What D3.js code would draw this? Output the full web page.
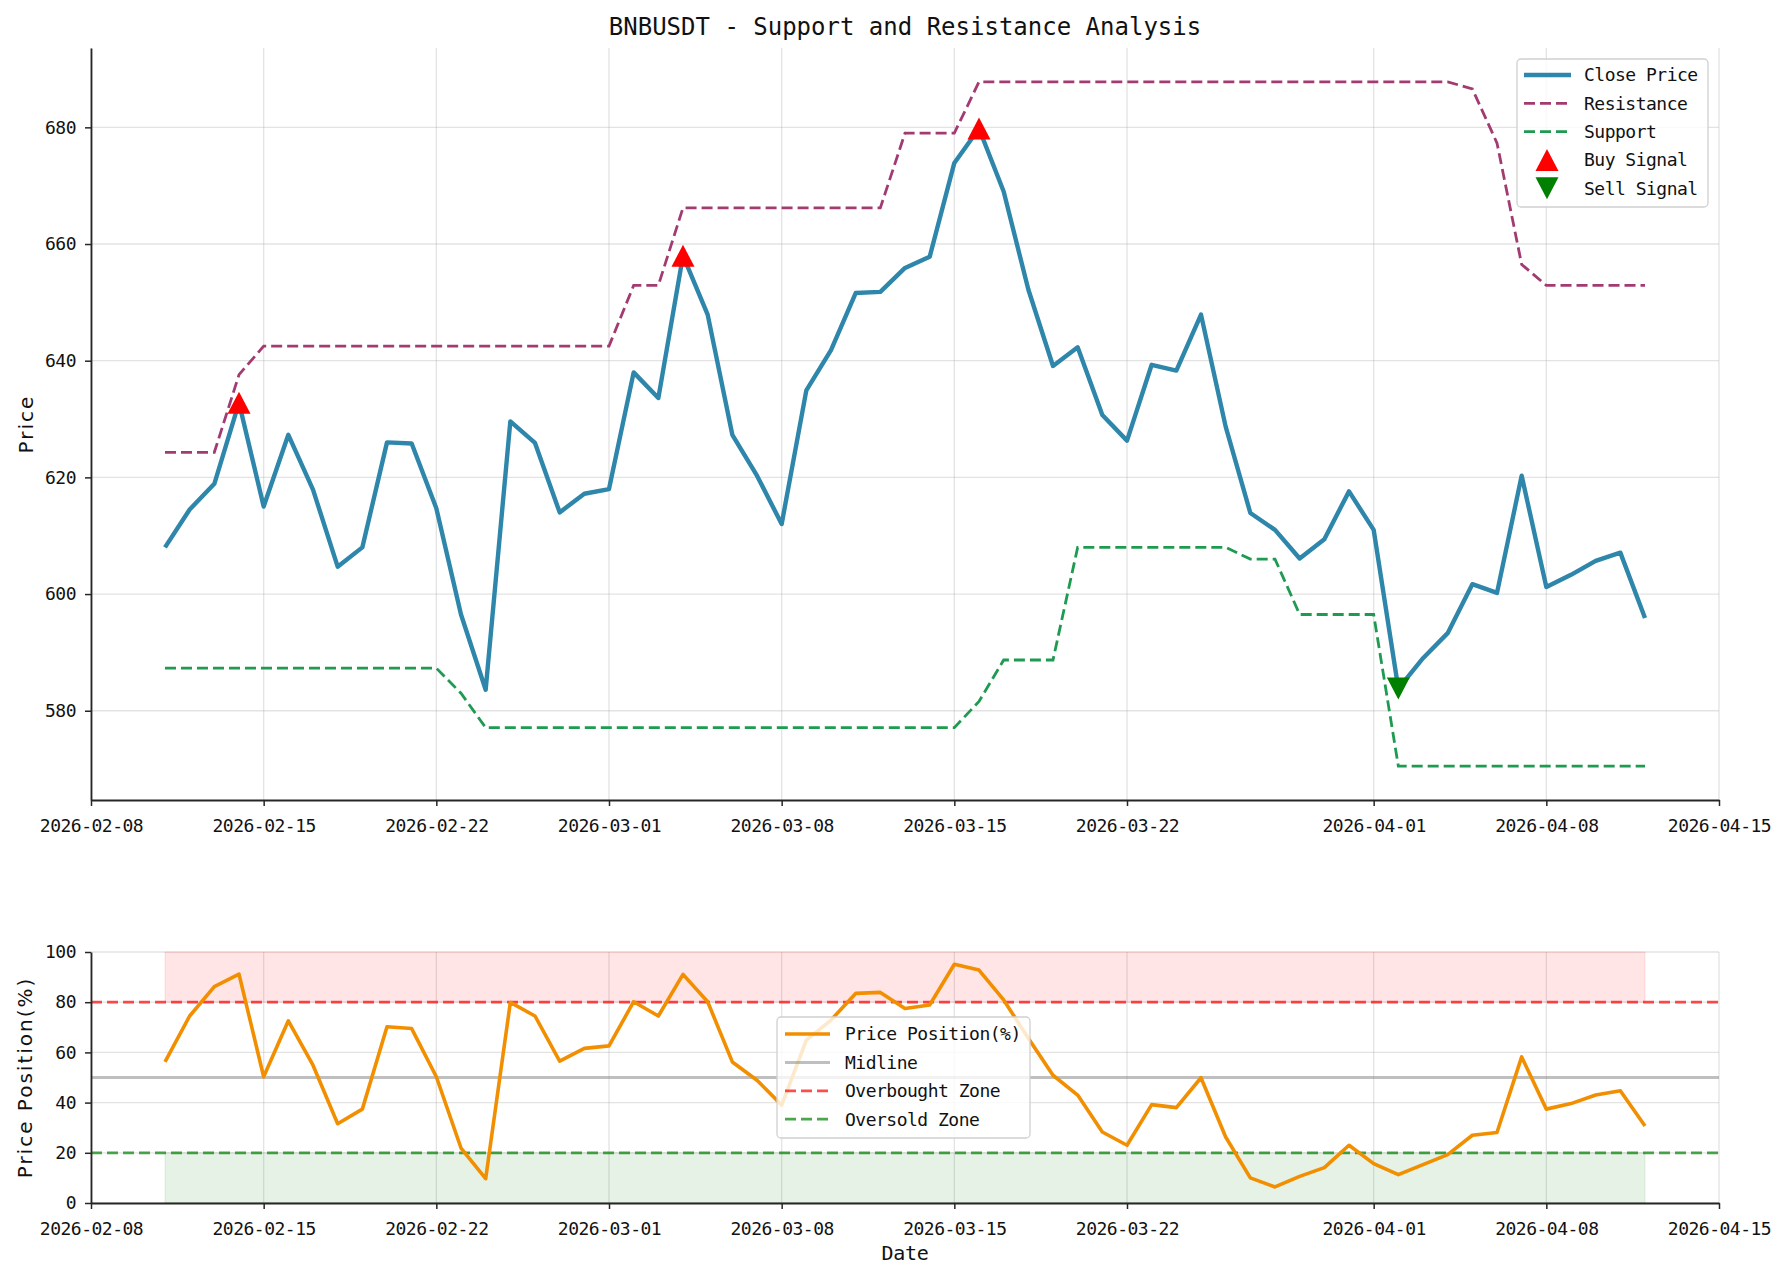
<!DOCTYPE html>
<html>
<head>
<meta charset="utf-8">
<script src="https://d3js.org/d3.v7.min.js"></script>
<style>
  body { margin: 0; background: #fff; }
  svg text { font-family: "DejaVu Sans Mono", monospace; fill: #111; }
</style>
</head>
<body>
<div id="chart"></div>
<script>
// ---- data ----
const dates = [
  "2026-02-11","2026-02-12","2026-02-13","2026-02-14","2026-02-15","2026-02-16","2026-02-17","2026-02-18",
  "2026-02-19","2026-02-20","2026-02-21","2026-02-22","2026-02-23","2026-02-24","2026-02-25","2026-02-26",
  "2026-02-27","2026-02-28","2026-03-01","2026-03-02","2026-03-03","2026-03-04","2026-03-05","2026-03-06",
  "2026-03-07","2026-03-08","2026-03-09","2026-03-10","2026-03-11","2026-03-12","2026-03-13","2026-03-14",
  "2026-03-15","2026-03-16","2026-03-17","2026-03-18","2026-03-19","2026-03-20","2026-03-21","2026-03-22",
  "2026-03-23","2026-03-24","2026-03-25","2026-03-26","2026-03-27","2026-03-28","2026-03-29","2026-03-30",
  "2026-03-31","2026-04-01","2026-04-02","2026-04-03","2026-04-04","2026-04-05","2026-04-06","2026-04-07",
  "2026-04-08","2026-04-09","2026-04-10","2026-04-11","2026-04-12"
];
const closePrice = [
  608.0, 614.5, 618.9, 632.8, 615.0, 627.3, 617.9, 604.7,
  608.0, 626.0, 625.8, 614.7, 596.5, 583.6, 629.6, 625.9,
  614.0, 617.2, 618.0, 638.0, 633.6, 658.0, 647.9, 627.3,
  620.3, 612.0, 634.9, 641.8, 651.6, 651.8, 655.9, 657.8,
  673.9, 679.8, 669.0, 652.2, 639.1, 642.3, 630.7, 626.3,
  639.3, 638.3, 647.9, 628.7, 613.9, 611.0, 606.1, 609.4,
  617.6, 611.0, 583.8, 589.0, 593.3, 601.7, 600.2, 620.3,
  601.2, 603.3, 605.7, 607.1, 595.9
];
const resistance = [
  624.3, 624.3, 624.3, 637.6, 642.5, 642.5, 642.5, 642.5,
  642.5, 642.5, 642.5, 642.5, 642.5, 642.5, 642.5, 642.5,
  642.5, 642.5, 642.5, 652.9, 652.9, 666.2, 666.2, 666.2,
  666.2, 666.2, 666.2, 666.2, 666.2, 666.2, 679.0, 679.0,
  679.0, 687.8, 687.8, 687.8, 687.8, 687.8, 687.8, 687.8,
  687.8, 687.8, 687.8, 687.8, 687.8, 687.8, 687.8, 687.8,
  687.8, 687.8, 687.8, 687.8, 687.8, 686.6, 677.3, 656.5,
  652.9, 652.9, 652.9, 652.9, 652.9
];
const support = [
  587.3, 587.3, 587.3, 587.3, 587.3, 587.3, 587.3, 587.3,
  587.3, 587.3, 587.3, 587.3, 583.0, 577.1, 577.1, 577.1,
  577.1, 577.1, 577.1, 577.1, 577.1, 577.1, 577.1, 577.1,
  577.1, 577.1, 577.1, 577.1, 577.1, 577.1, 577.1, 577.1,
  577.1, 581.6, 588.7, 588.7, 588.7, 608.0, 608.0, 608.0,
  608.0, 608.0, 608.0, 608.0, 606.0, 606.0, 596.5, 596.5,
  596.5, 596.5, 570.5, 570.5, 570.5, 570.5, 570.5, 570.5,
  570.5, 570.5, 570.5, 570.5, 570.5
];
const pricePosition = [
  56.2, 74.5, 86.2, 91.2, 50.3, 72.6, 54.9, 31.6,
  37.4, 70.2, 69.5, 50.3, 21.9, 9.7, 79.9, 74.5,
  56.5, 61.6, 62.6, 80.2, 74.5, 91.1, 80.2, 56.2,
  48.9, 39.0, 64.9, 72.9, 83.5, 83.9, 77.5, 78.9,
  95.1, 92.8, 80.9, 65.6, 50.9, 43.0, 28.3, 23.0,
  39.2, 38.0, 49.9, 26.3, 10.0, 6.4, 10.6, 14.1,
  23.0, 15.7, 11.3, 15.3, 19.3, 27.0, 28.1, 58.2,
  37.4, 39.6, 43.0, 44.7, 30.7
];
const buyDates = ["2026-02-14", "2026-03-04", "2026-03-16"];
const sellDates = ["2026-04-02"];

const tickDates = ["2026-02-08","2026-02-15","2026-02-22","2026-03-01","2026-03-08",
                   "2026-03-15","2026-03-22","2026-04-01","2026-04-08","2026-04-15"];
const xDomain = ["2026-02-08", "2026-04-15"];
const priceTicks = [580, 600, 620, 640, 660, 680];
const priceDomain = [564.7, 693.6];
const posTicks = [0, 20, 40, 60, 80, 100];
const posDomain = [0, 100];
const overboughtLevel = 80, oversoldLevel = 20, midLevel = 50;

const topLegendLabels = ["Close Price", "Resistance", "Support", "Buy Signal", "Sell Signal"];
const bottomLegendLabels = ["Price Position(%)", "Midline", "Overbought Zone", "Oversold Zone"];

// ---- layout ----
const W = 1785, H = 1280;
const left = 91, right = 1719;
const top1 = 48, bot1 = 800;
const top2 = 952, bot2 = 1203;

const cClose = "#2E86AB", cRes = "#A23B72", cSup = "#1f9a52", cPos = "#F18F01";
const dash = "11,5";
const axisColor = "#262626";

const parse = d3.utcParse("%Y-%m-%d");
const fmt = d3.utcFormat("%Y-%m-%d");

const svg = d3.select("#chart").append("svg")
  .attr("width", W).attr("height", H)
  .style("background", "#fff");

const x = d3.scaleUtc().domain(xDomain.map(parse)).range([left, right]);
const yP = d3.scaleLinear().domain(priceDomain).range([bot1, top1]);
const yQ = d3.scaleLinear().domain(posDomain).range([bot2, top2]);

const rows = dates.map((d, i) => ({
  date: parse(d), close: closePrice[i], res: resistance[i], sup: support[i], pos: pricePosition[i]
}));

const triPath = (up, w, h) => up
  ? `M0,${-h / 2}L${w / 2},${h / 2}L${-w / 2},${h / 2}Z`
  : `M0,${h / 2}L${w / 2},${-h / 2}L${-w / 2},${-h / 2}Z`;

function grid(yScale, yTicks, y0, y1) {
  const g = svg.append("g").attr("stroke", "#b0b0b0").attr("stroke-opacity", 0.35).attr("stroke-width", 1.3);
  g.selectAll(".vg").data(tickDates.map(parse)).enter().append("line")
    .attr("x1", d => x(d)).attr("x2", d => x(d)).attr("y1", y0).attr("y2", y1);
  g.selectAll(".hg").data(yTicks).enter().append("line")
    .attr("x1", left).attr("x2", right).attr("y1", d => yScale(d)).attr("y2", d => yScale(d));
}

function axes(yScale, yTicks, yBottom) {
  const xa = svg.append("g").attr("transform", `translate(0,${yBottom})`)
    .call(d3.axisBottom(x).tickValues(tickDates.map(parse)).tickFormat(fmt)
      .tickSize(6).tickSizeOuter(0).tickPadding(13));
  const ya = svg.append("g").attr("transform", `translate(${left},0)`)
    .call(d3.axisLeft(yScale).tickValues(yTicks).tickFormat(d3.format("d"))
      .tickSize(6).tickSizeOuter(0).tickPadding(9));
  [xa, ya].forEach(g => {
    g.attr("font-family", "DejaVu Sans Mono").attr("font-size", 18).attr("color", axisColor);
    g.select(".domain").attr("stroke-width", 1.8);
    g.selectAll(".tick line").attr("stroke-width", 1.5);
    g.selectAll("text").attr("letter-spacing", -0.5).attr("fill", "#111");
  });
}

// ---- top panel ----
grid(yP, priceTicks, top1, bot1);

const lineOf = key => d3.line().x(d => x(d.date)).y(d => yP(d[key]));

svg.append("path").datum(rows).attr("d", lineOf("close"))
  .attr("fill", "none").attr("stroke", cClose).attr("stroke-width", 4.4).attr("stroke-linejoin", "round");
svg.append("path").datum(rows).attr("d", lineOf("res"))
  .attr("fill", "none").attr("stroke", cRes).attr("stroke-width", 2.8).attr("stroke-dasharray", dash);
svg.append("path").datum(rows).attr("d", lineOf("sup"))
  .attr("fill", "none").attr("stroke", cSup).attr("stroke-width", 2.8).attr("stroke-dasharray", dash);

const byDate = new Map(dates.map((d, i) => [d, closePrice[i]]));
svg.selectAll(".buy").data(buyDates).enter().append("path")
  .attr("d", triPath(true, 23, 22))
  .attr("transform", d => `translate(${x(parse(d))},${yP(byDate.get(d))})`)
  .attr("fill", "#ff0000");
svg.selectAll(".sell").data(sellDates).enter().append("path")
  .attr("d", triPath(false, 23, 22))
  .attr("transform", d => `translate(${x(parse(d))},${yP(byDate.get(d))})`)
  .attr("fill", "#008000");

axes(yP, priceTicks, bot1);

// ---- bottom panel ----
grid(yQ, posTicks, top2, bot2);

const span = [rows[0].date, rows[rows.length - 1].date];
const band = (lo, hi) => d3.area().x(d => x(d)).y0(yQ(lo)).y1(yQ(hi))(span);
svg.append("path").attr("d", band(overboughtLevel, 100))
  .attr("fill", "rgba(255,0,0,0.1)").attr("stroke", "rgba(255,0,0,0.1)");
svg.append("path").attr("d", band(0, oversoldLevel))
  .attr("fill", "rgba(0,128,0,0.1)").attr("stroke", "rgba(0,128,0,0.1)");

svg.append("line").attr("x1", left).attr("x2", right)
  .attr("y1", yQ(midLevel)).attr("y2", yQ(midLevel))
  .attr("stroke", "rgba(128,128,128,0.5)").attr("stroke-width", 3);
svg.append("line").attr("x1", left).attr("x2", right)
  .attr("y1", yQ(overboughtLevel)).attr("y2", yQ(overboughtLevel))
  .attr("stroke", "rgba(255,0,0,0.7)").attr("stroke-width", 2.8).attr("stroke-dasharray", dash);
svg.append("line").attr("x1", left).attr("x2", right)
  .attr("y1", yQ(oversoldLevel)).attr("y2", yQ(oversoldLevel))
  .attr("stroke", "rgba(0,128,0,0.7)").attr("stroke-width", 2.8).attr("stroke-dasharray", dash);

svg.append("path").datum(rows)
  .attr("d", d3.line().x(d => x(d.date)).y(d => yQ(d.pos)))
  .attr("fill", "none").attr("stroke", cPos).attr("stroke-width", 3.6).attr("stroke-linejoin", "round");

axes(yQ, posTicks, bot2);

// ---- text ----
svg.append("text").attr("x", (left + right) / 2).attr("y", 35)
  .attr("text-anchor", "middle").attr("font-size", 24)
  .text("BNBUSDT - Support and Resistance Analysis");

svg.append("text").attr("transform", `translate(33,${(top1 + bot1) / 2}) rotate(-90)`)
  .attr("text-anchor", "middle").attr("font-size", 20).attr("letter-spacing", 2)
  .style("font-family", "'DejaVu Sans'")
  .text("Price");
svg.append("text").attr("transform", `translate(32,${(top2 + bot2) / 2}) rotate(-90)`)
  .attr("text-anchor", "middle").attr("font-size", 20).attr("letter-spacing", 2)
  .style("font-family", "'DejaVu Sans'")
  .text("Price Position(%)");
svg.append("text").attr("x", (left + right) / 2).attr("y", 1260)
  .attr("text-anchor", "middle").attr("font-size", 20).attr("letter-spacing", -0.3)
  .text("Date");

// ---- legends ----
function legendBox(x0, y0, w, h) {
  svg.append("rect").attr("x", x0).attr("y", y0).attr("width", w).attr("height", h)
    .attr("rx", 4).attr("fill", "rgba(255,255,255,0.8)")
    .attr("stroke", "#d0d0d0").attr("stroke-width", 1.3);
}

legendBox(1517, 59, 191, 148);
const topHandles = [
  { stroke: cClose, width: 4.4 },
  { stroke: cRes, width: 2.8, dash: dash },
  { stroke: cSup, width: 2.8, dash: dash },
  { marker: "up", fill: "#ff0000" },
  { marker: "down", fill: "#008000" }
];
topLegendLabels.forEach((lab, i) => {
  const yy = 75 + i * 28.3, h = topHandles[i];
  if (h.marker) {
    svg.append("path").attr("d", triPath(h.marker === "up", 23, 22))
      .attr("transform", `translate(1547,${yy})`).attr("fill", h.fill);
  } else {
    svg.append("line").attr("x1", 1524).attr("x2", 1571).attr("y1", yy).attr("y2", yy)
      .attr("stroke", h.stroke).attr("stroke-width", h.width).attr("stroke-dasharray", h.dash || null);
  }
  svg.append("text").attr("x", 1584).attr("y", yy).attr("dy", "0.36em")
    .attr("font-size", 18).attr("letter-spacing", -0.5).text(lab);
});

legendBox(777, 1017, 253, 121);
const botHandles = [
  { stroke: cPos, width: 3.6 },
  { stroke: "rgba(128,128,128,0.5)", width: 3 },
  { stroke: "rgba(255,0,0,0.7)", width: 2.8, dash: dash },
  { stroke: "rgba(0,128,0,0.7)", width: 2.8, dash: dash }
];
bottomLegendLabels.forEach((lab, i) => {
  const yy = 1034 + i * 28.4, h = botHandles[i];
  svg.append("line").attr("x1", 785).attr("x2", 830).attr("y1", yy).attr("y2", yy)
    .attr("stroke", h.stroke).attr("stroke-width", h.width).attr("stroke-dasharray", h.dash || null);
  svg.append("text").attr("x", 845).attr("y", yy).attr("dy", "0.36em")
    .attr("font-size", 18).attr("letter-spacing", -0.5).text(lab);
});
</script>
</body>
</html>
